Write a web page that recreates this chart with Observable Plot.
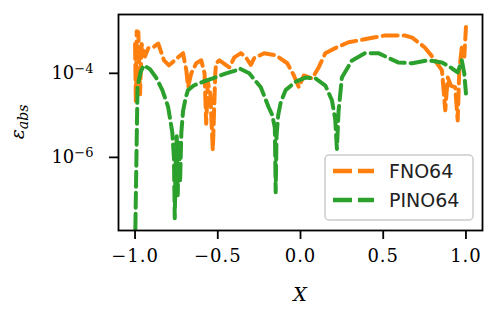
<!DOCTYPE html>
<html><head><meta charset="utf-8">
<script src="https://cdn.jsdelivr.net/npm/d3@7"></script>
<script src="https://cdn.jsdelivr.net/npm/@observablehq/plot@0.6"></script>
<style>body{margin:0;background:#fff} svg{display:block}</style>
</head><body><div id="chart"></div>
<script>
const xTicks = [-1.0, -0.5, 0.0, 0.5, 1.0];
const yTicks = [1e-4, 1e-6];
const yTickExponents = ["−4", "−6"];
const seriesNames = ["FNO64", "PINO64"];
const seriesColors = ["#ff7f0e", "#2ca02c"];

// FNO64: x positions and log10 of absolute error
const fnoX = [-1.0, -0.995, -0.99, -0.98, -0.97, -0.96, -0.94, -0.92, -0.89, -0.86, -0.825, -0.795, -0.74, -0.71, -0.69, -0.68, -0.66, -0.63, -0.6, -0.58, -0.57, -0.56, -0.545, -0.53, -0.515, -0.51, -0.49, -0.43, -0.40, -0.36, -0.33, -0.30, -0.28, -0.22, -0.15, -0.08, -0.04, -0.01, 0.02, 0.07, 0.11, 0.15, 0.21, 0.29, 0.36, 0.41, 0.51, 0.63, 0.675, 0.75, 0.80, 0.825, 0.855, 0.875, 0.89, 0.91, 0.935, 0.95, 0.96, 0.975, 0.99, 1.0];
const fnoLog = [-3.3, -4.7, -3.0, -3.02, -4.5, -3.3, -3.6, -3.4, -3.38, -3.29, -3.69, -3.81, -3.62, -3.52, -3.93, -4.33, -4.0, -3.76, -3.69, -4.0, -5.2, -4.2, -4.5, -5.83, -4.0, -3.76, -3.69, -3.86, -3.62, -3.52, -3.62, -3.8, -3.64, -3.52, -3.57, -3.76, -4.05, -4.33, -4.05, -4.12, -3.86, -3.52, -3.4, -3.26, -3.21, -3.17, -3.1, -3.1, -3.15, -3.38, -3.62, -3.76, -3.93, -4.88, -4.1, -4.3, -4.33, -5.12, -3.9, -3.38, -3.6, -2.9];

// PINO64
const pinoX = [-1.0, -0.985, -0.965, -0.946, -0.91, -0.873, -0.835, -0.80, -0.775, -0.765, -0.76, -0.755, -0.748, -0.742, -0.735, -0.728, -0.72, -0.71, -0.695, -0.68, -0.645, -0.59, -0.53, -0.45, -0.39, -0.37, -0.31, -0.24, -0.193, -0.17, -0.155, -0.15, -0.145, -0.135, -0.12, -0.09, -0.03, 0.03, 0.09, 0.15, 0.19, 0.21, 0.22, 0.23, 0.25, 0.31, 0.39, 0.47, 0.59, 0.675, 0.77, 0.855, 0.915, 0.95, 0.975, 0.99, 1.0];
const pinoLog = [-8.2, -4.3, -3.95, -3.81, -3.9, -4.1, -4.4, -4.8, -5.4, -6.0, -7.45, -6.2, -5.5, -6.9, -5.6, -6.6, -5.4, -4.9, -4.6, -4.4, -4.29, -4.2, -4.12, -4.0, -3.93, -3.88, -4.0, -4.33, -4.8, -5.0, -5.3, -6.83, -5.5, -5.0, -4.7, -4.4, -4.2, -4.1, -4.12, -4.29, -4.64, -5.1, -5.8, -4.9, -4.1, -3.7, -3.52, -3.52, -3.74, -3.76, -3.69, -3.74, -3.88, -3.98, -3.69, -4.0, -4.48];

const fno = fnoX.map((x, i) => ({x, y: Math.pow(10, fnoLog[i])}));
const pino = pinoX.map((x, i) => ({x, y: Math.pow(10, pinoLog[i])}));

const dash = "15,6";
const chart = Plot.plot({
  width: 491, height: 309,
  marginLeft: 118, marginRight: 9, marginTop: 14, marginBottom: 79,
  style: {fontFamily: "DejaVu Serif", fontSize: "17px", color: "black", background: "white"},
  x: {domain: [-1.1, 1.1]},
  y: {type: "log", domain: [Math.pow(10, -7.74), Math.pow(10, -2.6)]},
  marks: [
    Plot.line(fno, {x: "x", y: "y", stroke: seriesColors[0], strokeWidth: 4, strokeDasharray: dash, clip: true}),
    Plot.line(pino, {x: "x", y: "y", stroke: seriesColors[1], strokeWidth: 4, strokeDasharray: dash, clip: true}),
    Plot.frame({stroke: "black", strokeWidth: 1.8}),
    Plot.axisX({ticks: xTicks, tickSize: 9, tickPadding: 10, strokeWidth: 1.8, label: null,
      tickFormat: d => d.toFixed(1).replace("-", "−")}),
    Plot.axisY({ticks: yTicks, tickSize: 9, tickPadding: 16, strokeWidth: 1.8, label: null,
      tickFormat: (d, i) => "10^" + yTickExponents[yTicks.indexOf(d)]})
  ]
});
document.getElementById("chart").appendChild(chart);
const svg = d3.select(chart);
svg.selectAll('g[aria-label="x-axis tick label"] text').attr("letter-spacing", "1px").style("font-size", "18px");
svg.selectAll('g[aria-label="y-axis tick label"] text').each(function() {
  const t = d3.select(this);
  const parts = t.text().split("^");
  t.text(null).style("font-size", "18px");
  t.append("tspan").text(parts[0]);
  t.append("tspan").attr("dy", "-0.5em").style("font-size", "13px").text(parts[1]);
});
// axis titles
svg.append("text").attr("x", 300).attr("y", 301).attr("text-anchor", "middle")
  .style("font-family", "DejaVu Serif").style("font-style", "italic").style("font-size", "19px").text("X");
const yl = svg.append("text").attr("transform", "translate(24,122) rotate(-90)").attr("text-anchor", "middle")
  .style("font-family", "DejaVu Serif").style("font-style", "italic").style("font-size", "19px");
yl.append("tspan").text("ε");
yl.append("tspan").attr("dy", "0.3em").style("font-size", "14px").text("abs");
// legend
const lg = svg.append("g").attr("text-anchor", "start");
lg.append("rect").attr("x", 325).attr("y", 155).attr("width", 148).attr("height", 65).attr("rx", 4)
  .attr("fill", "white").attr("fill-opacity", 0.8).attr("stroke", "#cccccc").attr("stroke-width", 1.5);
seriesNames.forEach((name, i) => {
  const cy = 171 + i * 29;
  lg.append("line").attr("x1", 333).attr("x2", 374).attr("y1", cy).attr("y2", cy)
    .attr("stroke", seriesColors[i]).attr("stroke-width", 4.5).attr("stroke-dasharray", "19,6");
  lg.append("text").attr("x", 389).attr("y", cy).attr("dy", "0.36em").attr("text-anchor", "start")
    .style("font-family", "DejaVu Sans").style("font-size", "19px").attr("fill", "#222").text(name);
});
</script>
</body></html>
